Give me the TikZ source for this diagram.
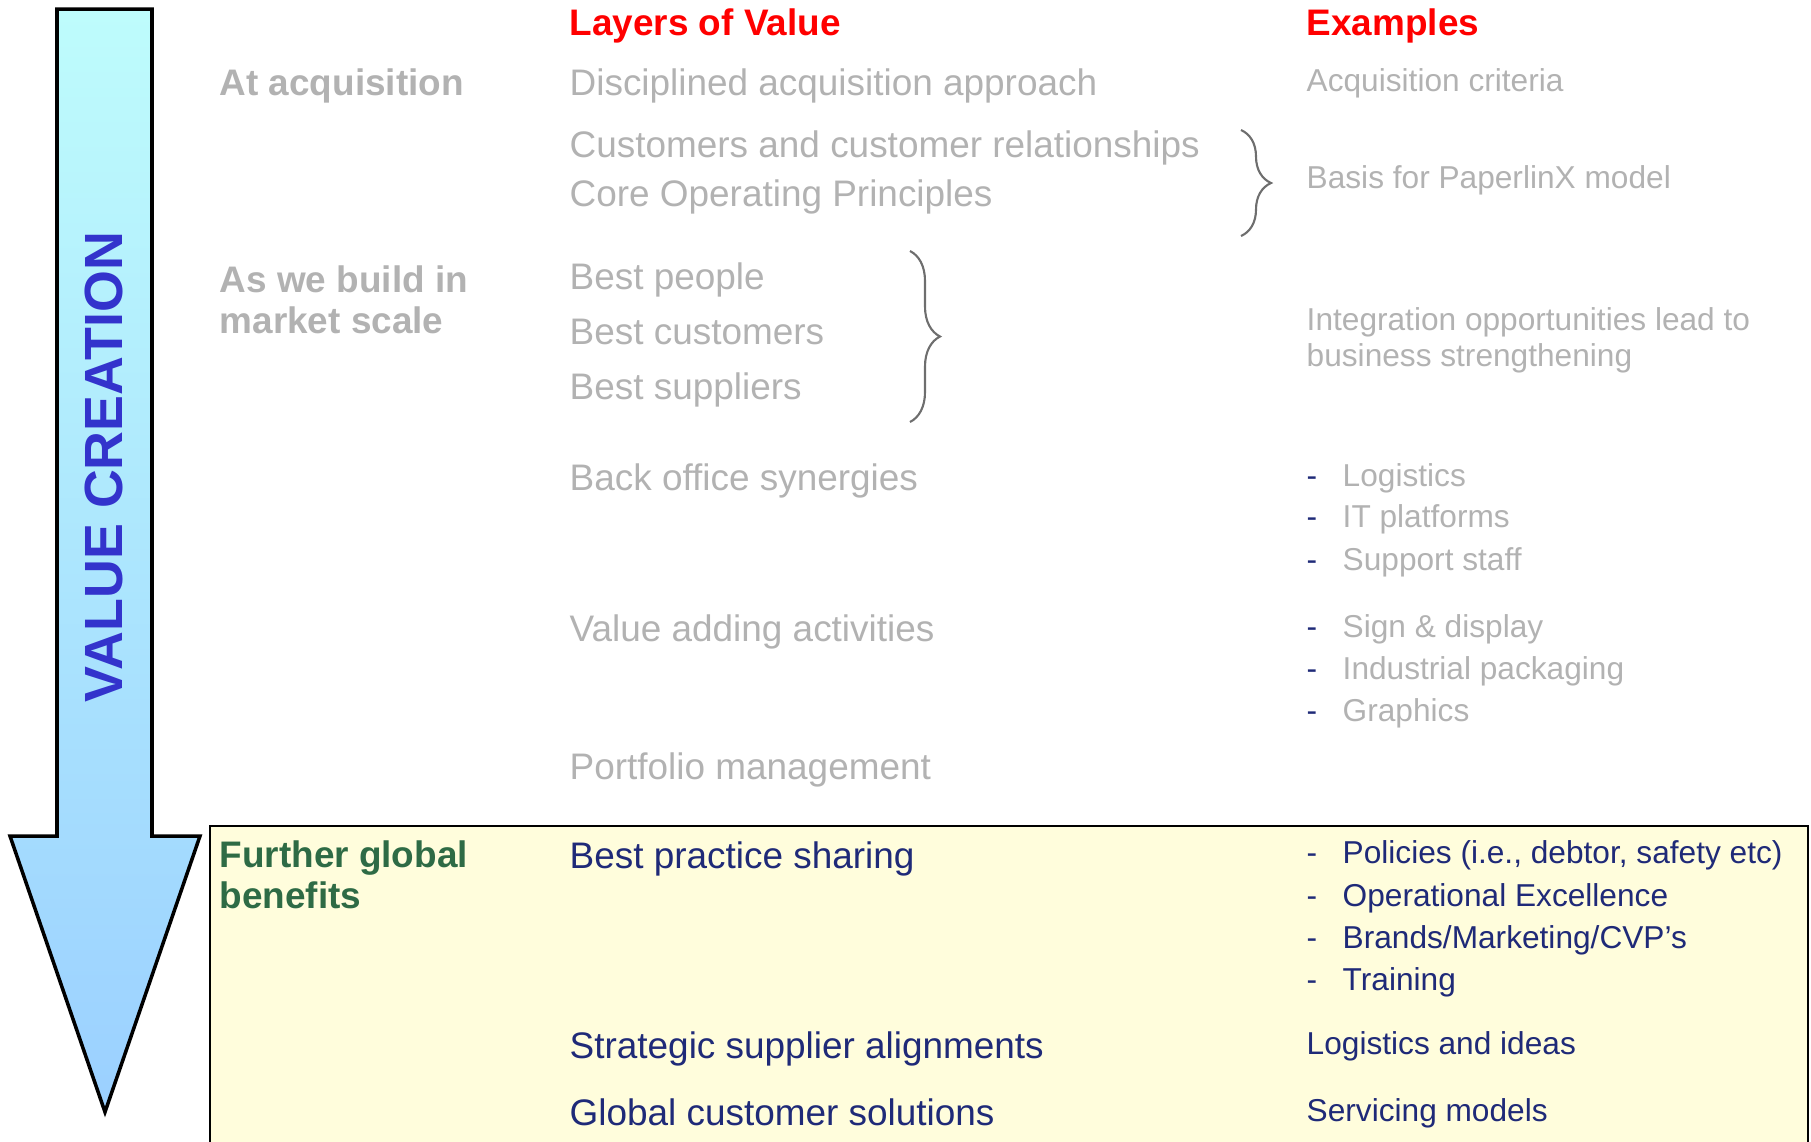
\documentclass[tikz,border=0pt]{standalone}
\usepackage{fontspec}
\setmainfont{Liberation Sans}
\usetikzlibrary{decorations.pathreplacing}

\definecolor{headred}{RGB}{255,0,0}
\definecolor{greytext}{RGB}{178,178,178}
\definecolor{navytext}{RGB}{31,42,120}
\definecolor{greentext}{RGB}{46,107,69}
\definecolor{vcblue}{RGB}{51,51,204}
\definecolor{boxyellow}{RGB}{255,253,220}
\definecolor{arrowtop}{RGB}{190,252,252}
\definecolor{arrowbottom}{RGB}{155,208,255}
\definecolor{bracegrey}{RGB}{110,110,110}

\begin{document}
\begin{tikzpicture}[x=0.01cm,y=-0.01cm,
    head/.style={anchor=base west,inner sep=0pt,text=headred,font=\fontsize{10.5}{12}\selectfont\bfseries},
    stage/.style={anchor=base west,inner sep=0pt,align=left,text=greytext,font=\fontsize{10.5}{11.4}\selectfont\bfseries},
    layer/.style={anchor=base west,inner sep=0pt,text=greytext,font=\fontsize{10.5}{12}\selectfont},
    example/.style={anchor=base west,inner sep=0pt,align=left,text=greytext,font=\fontsize{9}{10}\selectfont},
    dashmark/.style={anchor=base west,inner sep=0pt,text=navytext,font=\fontsize{9}{10}\selectfont},
    curly/.style={draw=bracegrey,line width=0.6pt,decorate,decoration={brace,amplitude=0.3cm}}]

      \useasboundingbox (0,0) rectangle (1811,1141);

      % further global benefits box
      \draw[fill=boxyellow,line width=0.6pt] (210,826) rectangle (1808,1160);

      % value creation arrow
      \draw[top color=arrowtop,bottom color=arrowbottom,line width=1pt]
        (57,9) -- (152,9) -- (152,836) -- (200,836) -- (105,1112)
        -- (10,836) -- (57,836) -- cycle;
      \node (VC) [rotate=90,text=vcblue,font=\fontsize{15.3}{18}\selectfont\bfseries] at (104,467) {VALUE CREATION};

      \node (H1) [head] at (569,35) {Layers of Value};
      \node (H2) [head] at (1306,35) {Examples};

      \node (S1) [stage] at (219,95) {At acquisition};
      \node (S2) [stage] at (219,333) {As we build in\\market scale};
      \node (S3) [stage,text=greentext] at (219,908) {Further global\\benefits};

      \node (L1) [layer] at (569,95) {Disciplined acquisition approach};
      \node (L2) [layer] at (569,157) {Customers and customer relationships};
      \node (L3) [layer] at (569,206) {Core Operating Principles};
      \node (L4) [layer] at (569,289) {Best people};
      \node (L5) [layer] at (569,344) {Best customers};
      \node (L6) [layer] at (569,399) {Best suppliers};
      \node (L7) [layer] at (569,490) {Back office synergies};
      \node (L8) [layer] at (569,641) {Value adding activities};
      \node (L9) [layer] at (569,779) {Portfolio management};
      \node (L10) [layer,text=navytext] at (569,868) {Best practice sharing};
      \node (L11) [layer,text=navytext] at (569,1058) {Strategic supplier alignments};
      \node (L12) [layer,text=navytext] at (569,1125) {Global customer solutions};

      \node (E1) [example] at (1306,91) {Acquisition criteria};
      \node (E2) [example] at (1306,188) {Basis for PaperlinX model};
      \node (E3) [example] at (1306,366) {Integration opportunities lead to\\business strengthening};
      \node (E4) [example,text=navytext] at (1306,1054) {Logistics and ideas};
      \node (E5) [example,text=navytext] at (1306,1121) {Servicing models};

      % dashed lists
      \node (D1) [dashmark] at (1306,486) {-};
      \node (D2) [dashmark] at (1306,527) {-};
      \node (D3) [dashmark] at (1306,570) {-};
      \node (D4) [dashmark] at (1306,637) {-};
      \node (D5) [dashmark] at (1306,679) {-};
      \node (D6) [dashmark] at (1306,721) {-};
      \node (D7) [dashmark] at (1306,863) {-};
      \node (D8) [dashmark] at (1306,906) {-};
      \node (D9) [dashmark] at (1306,948) {-};
      \node (D10) [dashmark] at (1306,990) {-};

      \node (T1) [example] at (1342,486) {Logistics};
      \node (T2) [example] at (1342,527) {IT platforms};
      \node (T3) [example] at (1342,570) {Support staff};
      \node (T4) [example] at (1342,637) {Sign \& display};
      \node (T5) [example] at (1342,679) {Industrial packaging};
      \node (T6) [example] at (1342,721) {Graphics};
      \node (T7) [example,text=navytext] at (1342,863) {Policies (i.e., debtor, safety etc)};
      \node (T8) [example,text=navytext] at (1342,906) {Operational Excellence};
      \node (T9) [example,text=navytext] at (1342,948) {Brands/Marketing/CVP’s};
      \node (T10) [example,text=navytext] at (1342,990) {Training};

      % braces
      \coordinate (B1a) at (1241,130);
      \coordinate (B1b) at (1241,236);
      \coordinate (B2a) at (910,251);
      \coordinate (B2b) at (910,422);
      \draw[curly] (B1a) -- (B1b);
      \draw[curly] (B2a) -- (B2b);
    \end{tikzpicture}
\end{document}
